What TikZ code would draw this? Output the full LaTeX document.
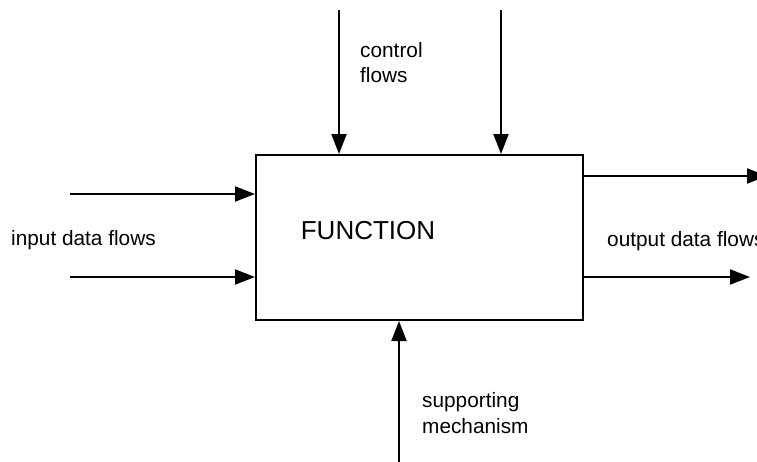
\documentclass[tikz,border=0pt]{standalone}
\usepackage{fontspec}
\setmainfont{Liberation Sans}
\usetikzlibrary{arrows.meta}

\begin{document}
\begin{tikzpicture}[x=1pt,y=-1pt,
    flow/.style={line width=2pt,-{Triangle[length=20pt,width=15pt]}},
    lbl/.style={font=\fontsize{20.8}{25.5}\selectfont,align=left,inner sep=0pt,anchor=base west}]
    \useasboundingbox (0,0) rectangle (757,461);
    \clip (0,0) rectangle (757,461);

    % Function box
    \node[draw,line width=2pt,minimum width=327pt,minimum height=165pt,inner sep=0pt] (func) at (419.5,237.5) {};
    \node[font=\fontsize{26}{30}\selectfont,inner sep=0pt,anchor=base] (fname) at (368,239) {FUNCTION};

    % Control flows from above
    \coordinate (ctlA) at (339,10);
    \coordinate (ctlB) at (501,10);
    \draw[flow] (ctlA) -- (ctlA |- func.north);
    \draw[flow] (ctlB) -- (ctlB |- func.north);
    \node[lbl] (ctltext) at (360,82.5) {control\\flows};

    % Input data flows
    \coordinate (inA) at (70,194);
    \coordinate (inB) at (70,277);
    \draw[flow] (inA) -- (inA -| func.west);
    \draw[flow] (inB) -- (inB -| func.west);
    \node[lbl] (intext) at (11,245) {input data flows};

    % Output data flows
    \coordinate (outA) at (767,176);
    \coordinate (outB) at (750,277);
    \draw[flow] (outA -| func.east) -- (outA);
    \draw[flow] (outB -| func.east) -- (outB);
    \node[lbl] (outtext) at (607,246) {output data flows};

    % Supporting mechanism from below
    \coordinate (mech) at (399,470);
    \draw[flow] (mech) -- (mech |- func.south);
    \node[lbl] (mechtext) at (422,433) {supporting\\mechanism};
\end{tikzpicture}
\end{document}
